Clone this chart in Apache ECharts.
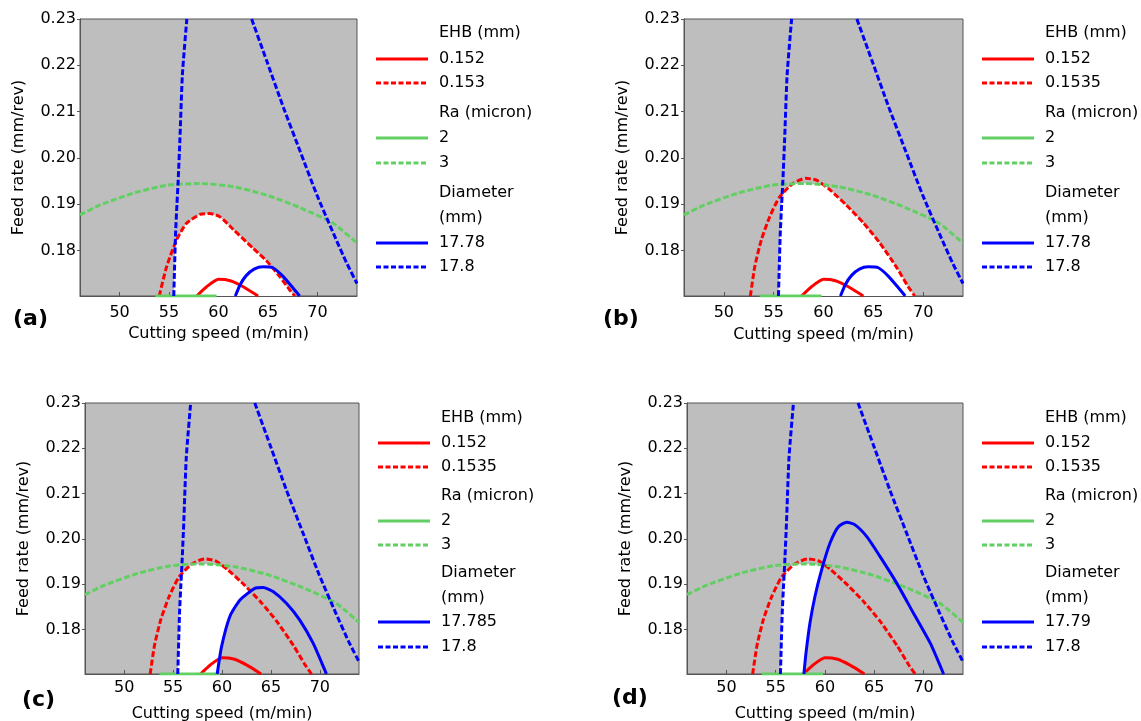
<!DOCTYPE html>
<html>
<head>
<meta charset="utf-8">
<script src="https://cdn.jsdelivr.net/npm/echarts@6/dist/echarts.min.js"></script>
<style>
  html, body { margin: 0; padding: 0; background: #ffffff; }
  #chart { width: 1141px; height: 721px; }
</style>
</head>
<body>
<div id="chart"></div>
<script>
// Axis ranges and ticks
const speedRange = [46, 74];
const feedRange = [0.1702, 0.23];
const speedTicks = [50, 55, 60, 65, 70];
const feedTicks = [0.18, 0.19, 0.20, 0.21, 0.22, 0.23];

// Contour lines as [cutting speed (m/min), feed rate (mm/rev)]
const ra2 = [[53.6, 0.1702], [59.8, 0.1702]];
const ra3 = [[46, 0.1877], [48, 0.1898], [51.4, 0.1924], [54.75, 0.1941], [58.1, 0.1945],
  [61.5, 0.1938], [64.85, 0.1920], [68.2, 0.1893], [71.6, 0.1859], [74, 0.1816]];

const ehb0152 = [[57.8, 0.1702], [58.8, 0.1722], [60.0, 0.1738], [61.2, 0.1735], [62.5, 0.1722], [64.0, 0.1702]];
const ehb0153 = [[54.01, 0.1702], [54.75, 0.1765], [55.76, 0.1823], [56.77, 0.1859], [58.12, 0.1878],
  [59.13, 0.1880], [60.14, 0.1873], [61.48, 0.1846], [63.5, 0.1805], [64.85, 0.1778], [66.19, 0.1744],
  [67.2, 0.1715], [67.71, 0.1702]];
const ehb01535 = [[52.66, 0.1702], [53.1, 0.1765], [53.76, 0.1823], [54.6, 0.1873], [55.6, 0.1916],
  [56.94, 0.1945], [58.2, 0.1956], [59.3, 0.1952], [60.6, 0.1932], [62.3, 0.1898], [64.0, 0.1860],
  [65.6, 0.1818], [67.3, 0.1765], [68.5, 0.1722], [69.15, 0.1702]];

const dia17780 = [[61.7, 0.1702], [62.2, 0.1727], [62.8, 0.1746], [63.6, 0.1760], [64.5, 0.1765],
  [65.5, 0.1763], [66.5, 0.1745], [67.7, 0.1715], [68.2, 0.1702]];
const dia17785 = [[59.51, 0.1702], [59.95, 0.1762], [60.8, 0.1829], [61.82, 0.1865], [63.35, 0.1891],
  [64.2, 0.1893], [65.22, 0.1884], [66.58, 0.1858], [67.95, 0.1821], [69.31, 0.1770], [70.5, 0.1711],
  [70.67, 0.1702]];
const dia17790 = [[57.86, 0.1702], [58.07, 0.1748], [58.47, 0.1814], [58.98, 0.1873], [59.66, 0.1932],
  [60.51, 0.1991], [61.36, 0.2027], [62.2, 0.2037], [63.05, 0.2031], [64.24, 0.2005], [65.59, 0.1961],
  [67.29, 0.1902], [68.98, 0.1836], [70.68, 0.1770], [72.03, 0.1702]];
const dia17800Left = [[55.48, 0.1702], [55.56, 0.1765], [55.66, 0.1837], [55.80, 0.1900], [55.92, 0.1950],
  [56.10, 0.2040], [56.35, 0.2180], [56.80, 0.2300]];
const dia17800Right = [[63.35, 0.2300], [64.9, 0.2208], [66.58, 0.2108], [68.26, 0.2014], [69.95, 0.1920],
  [71.62, 0.1837], [72.96, 0.1773], [74.0, 0.1729]];

// Per-panel settings
const panelTags = ['(a)', '(b)', '(c)', '(d)'];
const ehbLevels = ['0.153', '0.1535', '0.1535', '0.1535'];
const diaLevels = ['17.78', '17.78', '17.785', '17.79'];
const ehbUpper = [ehb0153, ehb01535, ehb01535, ehb01535];
const diaLower = [dia17780, dia17780, dia17785, dia17790];
const diaLimitsRegion = [false, false, true, true];

// Layout of the four panels (pixels)
const topRows = [33, 59, 83, 113, 138, 163, 193, 218, 243, 267];
const bottomRows = [418, 443, 467, 496, 521, 545, 573, 598, 622, 647];
const panels = [
  { left: 80,  top: 19,  width: 277, height: 277, tagX: 13,  tagY: 319, labelGap: 9, nameGap: 30, rows: topRows },
  { left: 684, top: 19,  width: 279, height: 277, tagX: 603, tagY: 319, labelGap: 9, nameGap: 31, rows: topRows },
  { left: 85,  top: 403, width: 274, height: 271, tagX: 22,  tagY: 700, labelGap: 6, nameGap: 32, rows: bottomRows },
  { left: 687, top: 403, width: 276, height: 271, tagX: 612, tagY: 698, labelGap: 6, nameGap: 32, rows: bottomRows }
];

const RED = '#ff0000', GREEN = '#62cf62', BLUE = '#0000ff';
const FONT = '"DejaVu Sans", "Noto Sans", sans-serif';
const DASH = [6, 2.5];

// y of a contour at speed x (piecewise linear), null outside its span
function yAt(curve, x) {
  const n = curve.length;
  if (x < curve[0][0] || x > curve[n - 1][0]) return null;
  for (let i = 1; i < n; i++) {
    const a = curve[i - 1], b = curve[i];
    if (x <= b[0]) {
      const t = b[0] === a[0] ? 0 : (x - a[0]) / (b[0] - a[0]);
      return a[1] + t * (b[1] - a[1]);
    }
  }
  return curve[n - 1][1];
}

// Feasible window: right of the 17.8 mm line, below Ra 3 and inside the EHB limit;
// in (c) and (d) it also stays outside the lower diameter contour.
function feasibleRegion(p) {
  const xs = [];
  for (let k = 0; k <= 2800; k++) xs.push(speedRange[0] + k * 0.01);
  const upper = [], lower = [];
  xs.forEach(x => {
    const g = yAt(ra3, x);
    const r = yAt(ehbUpper[p], x);
    let bl;
    const L = dia17800Left;
    if (x < L[0][0]) bl = -Infinity;
    else if (x > L[L.length - 1][0]) bl = Infinity;
    else bl = yAt(L, x);
    let up = Math.min(g === null ? Infinity : g, r === null ? -Infinity : r, bl, feedRange[1]);
    let lo = feedRange[0];
    if (diaLimitsRegion[p]) {
      const d = yAt(diaLower[p], x);
      if (d !== null) lo = Math.max(lo, d);
    }
    if (up > lo) { upper.push([x, up]); lower.push([x, lo]); }
  });
  return upper.concat(lower.reverse());
}

const grids = [], xAxes = [], yAxes = [], series = [], graphics = [];

panels.forEach((P, i) => {
  grids.push({
    left: P.left, top: P.top, width: P.width, height: P.height,
    outerBoundsMode: 'none', containLabel: false,
    show: true, backgroundColor: '#bebebe', borderColor: '#555555', borderWidth: 1
  });
  xAxes.push({
    gridIndex: i, type: 'value', min: speedRange[0], max: speedRange[1],
    axisLine: { show: true, lineStyle: { color: '#555555', width: 1 } },
    axisTick: { show: true, inside: true, length: 4, customValues: speedTicks, lineStyle: { color: '#555555' } },
    axisLabel: { customValues: speedTicks, color: '#000', fontSize: 16, fontFamily: FONT, margin: P.labelGap },
    splitLine: { show: false },
    name: 'Cutting speed (m/min)', nameLocation: 'middle', nameGap: P.nameGap,
    nameTextStyle: { color: '#000', fontSize: 16, fontFamily: FONT }
  });
  yAxes.push({
    gridIndex: i, type: 'value', min: feedRange[0], max: feedRange[1],
    axisLine: { show: true, lineStyle: { color: '#555555', width: 1 } },
    axisTick: { show: true, inside: false, length: 3, customValues: feedTicks, lineStyle: { color: '#555555' } },
    axisLabel: { customValues: feedTicks, color: '#000', fontSize: 16, fontFamily: FONT, margin: 4,
      formatter: v => v.toFixed(2) },
    splitLine: { show: false },
    name: 'Feed rate (mm/rev)', nameLocation: 'middle', nameGap: 53, nameRotate: 90,
    nameTextStyle: { color: '#000', fontSize: 16, fontFamily: FONT }
  });

  const region = feasibleRegion(i);
  series.push({
    type: 'custom', xAxisIndex: i, yAxisIndex: i, clip: true, silent: true, z: 1,
    data: [region[0]],
    renderItem: (params, api) => ({
      type: 'polygon',
      shape: { points: region.map(pt => api.coord(pt)) },
      style: { fill: '#ffffff', stroke: null }
    })
  });

  const line = (data, color, dashed) => ({
    type: 'line', xAxisIndex: i, yAxisIndex: i, data: data,
    symbol: 'none', smooth: 0.2, clip: true, silent: true, z: 3,
    lineStyle: { color: color, width: 3, type: dashed ? DASH : 'solid' }
  });
  series.push(line(ehb0152, RED, false));
  series.push(line(ehbUpper[i], RED, true));
  series.push(line(ra2, GREEN, false));
  series.push(line(ra3, GREEN, true));
  series.push(line(diaLower[i], BLUE, false));
  series.push(line(dia17800Left, BLUE, true));
  series.push(line(dia17800Right, BLUE, true));

  // Legend block
  const right = P.left + P.width;
  const entries = [
    { text: 'EHB (mm)' },
    { text: '0.152', color: RED, dashed: false },
    { text: ehbLevels[i], color: RED, dashed: true },
    { text: 'Ra (micron)' },
    { text: '2', color: GREEN, dashed: false },
    { text: '3', color: GREEN, dashed: true },
    { text: 'Diameter' },
    { text: '(mm)' },
    { text: diaLevels[i], color: BLUE, dashed: false },
    { text: '17.8', color: BLUE, dashed: true }
  ];
  entries.forEach((e, k) => {
    const y = P.rows[k];
    if (e.color) {
      graphics.push({
        type: 'line', silent: true,
        shape: { x1: right + 19, y1: y, x2: right + 71, y2: y },
        style: { stroke: e.color, lineWidth: 3, lineDash: e.dashed ? [5, 2.5] : null }
      });
    }
    graphics.push({
      type: 'text', silent: true, x: right + 82, y: y,
      style: { text: e.text, fill: '#000', font: '16px ' + FONT, verticalAlign: 'middle', align: 'left' }
    });
  });

  graphics.push({
    type: 'text', silent: true, x: P.tagX, y: P.tagY,
    style: { text: panelTags[i], fill: '#000', font: 'bold 22px ' + FONT, verticalAlign: 'middle', align: 'left' }
  });
});

const chart = echarts.init(document.getElementById('chart'), null, { renderer: 'canvas' });
chart.setOption({
  backgroundColor: '#ffffff',
  animation: false,
  grid: grids,
  xAxis: xAxes,
  yAxis: yAxes,
  series: series,
  graphic: graphics
});
</script>
</body>
</html>
